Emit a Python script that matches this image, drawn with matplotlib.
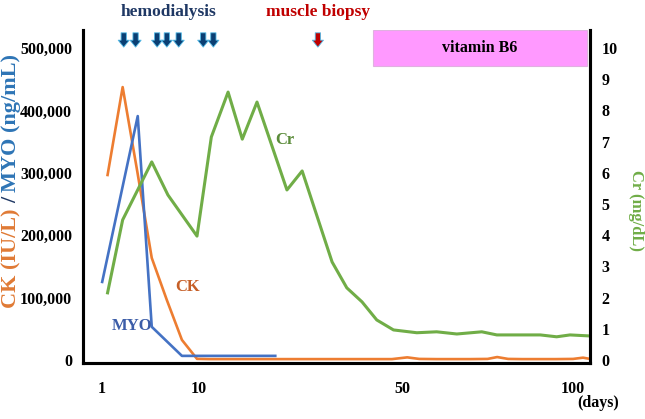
import numpy as np
import matplotlib
matplotlib.use('Agg')
import matplotlib.pyplot as plt
from matplotlib.ticker import FuncFormatter
import matplotlib.transforms as mtransforms

plt.rcParams['font.family'] = ['Liberation Serif', 'DejaVu Serif']
plt.rcParams['font.weight'] = 'bold'

# datos (dias desde el ingreso)
ck_dias = [1.5, 2.9, 4.25, 5.6, 7.0, 8.4, 9.8, 12, 15, 18, 21, 25, 30, 35, 40, 45,
           48, 51.5, 55, 60, 65, 70, 75, 77.8, 81, 85, 90, 95, 100, 102.9, 105]
ck_val = [296500, 437500, 303000, 163500, 96000, 32000, 1600, 1200, 1200, 1200, 1200,
          1200, 1200, 1200, 1200, 1200, 1200, 4000, 1500, 1200, 1200, 1200, 1500,
          4500, 1500, 1200, 1200, 1200, 1500, 3500, 1500]

myo_dias = [1.0, 4.3, 5.6, 8.4, 25.0]
myo_val = [125000, 391000, 53000, 6400, 6400]

cr_dias = [1.5, 2.9, 5.6, 7.1, 9.8, 12.4, 15.7, 18.5, 21.4, 27.3, 30.3, 36.2, 39.1,
           42.1, 45.0, 48.3, 54.3, 60.1, 66.0, 73.3, 77.7, 83.5, 90.4, 95.2, 99.1, 104.4]
cr_val = [2.15, 4.49, 6.35, 5.29, 3.97, 7.15, 8.59, 7.08, 8.27, 5.45, 6.06, 3.14, 2.31,
          1.86, 1.28, 0.96, 0.87, 0.90, 0.83, 0.90, 0.80, 0.80, 0.80, 0.74, 0.80, 0.77]

hd_dias = [3.0, 4.1, 6.1, 7.0, 8.1, 10.8, 12.8]
biopsia_dia = 33.4
vitb6 = (44.3, 104.1)

dias_tick = [1, 10, 50, 100]

# eje x no uniforme (como en el original)
nodos_d = [-5, 1, 10, 50, 100, 120]
nodos_p = [37.3, 102, 199, 402, 573, 641.4]

def fwd(d):
    return np.interp(d, nodos_d, nodos_p)

def inv(p):
    return np.interp(p, nodos_p, nodos_d)

naranja = '#ED7D31'
azul = '#4472C4'
verde = '#70AD47'

fig = plt.figure(figsize=(6.45, 4.19), dpi=100)
ax = fig.add_axes([0.129, 0.134, 0.786, 0.794])
ax.set_xscale('function', functions=(fwd, inv))
ax2 = ax.twinx()

ax.plot(ck_dias, ck_val, color=naranja, lw=1.9, zorder=3)
ax.plot(myo_dias, myo_val, color=azul, lw=1.9, zorder=3)
ax2.plot(cr_dias, cr_val, color=verde, lw=2.2, zorder=2)

ax.set_xlim(-0.76, 105)
ax.set_ylim(-4800, 528800)
ax2.set_ylim(-0.096, 10.576)

ax.set_yticks(range(0, 500001, 100000))
ax.yaxis.set_major_formatter(FuncFormatter(lambda v, p: '{:,.0f}'.format(v)))
ax2.set_yticks(range(0, 11))
ax.set_xticks(dias_tick)
ax.set_xticklabels([str(d) for d in dias_tick])
ax.tick_params(axis='y', length=0, pad=8, labelsize=11.5)
ax.tick_params(axis='x', length=0, pad=13, labelsize=11.5)
ax2.tick_params(axis='y', length=0, pad=8, labelsize=11.5)

for a in (ax, ax2):
    a.spines['top'].set_visible(False)
    for s in ('left', 'right', 'bottom'):
        a.spines[s].set_linewidth(2.2)
        a.spines[s].set_color('black')

# vitamina B6
trans = mtransforms.blended_transform_factory(ax.transData, ax.transAxes)
ax.axvspan(vitb6[0], vitb6[1], ymin=0.892, ymax=1.0, facecolor='#FF99FF',
           edgecolor='#E0B0E0', lw=0.8, zorder=1)
ax.text(inv(np.mean(fwd(np.array(vitb6)))), 0.946,
        'vitamin B6', transform=trans, ha='center', va='center', fontsize=11.5)

# flechas de hemodialisis y biopsia
estilo = 'simple,head_length=0.5,head_width=0.8,tail_width=0.38'
for d in hd_dias:
    ax.annotate('', xy=(d, 0.949), xytext=(d, 0.992), xycoords=trans, textcoords=trans,
                arrowprops=dict(arrowstyle=estilo, fc='#0B3F73', ec='#4FB8E6', lw=0.6,
                                mutation_scale=10, shrinkA=0, shrinkB=0),
                annotation_clip=False)
ax.annotate('', xy=(biopsia_dia, 0.949), xytext=(biopsia_dia, 0.992), xycoords=trans,
            textcoords=trans,
            arrowprops=dict(arrowstyle=estilo, fc='#C00000', ec='#4FB8E6', lw=0.6,
                            mutation_scale=10, shrinkA=0, shrinkB=0),
            annotation_clip=False)

ax.text(inv(np.mean(fwd(np.array([hd_dias[0], hd_dias[-1]])))), 1.055, 'hemodialysis',
        transform=trans, ha='center', va='center', fontsize=12.5, color='#1F3864')
ax.text(biopsia_dia, 1.055, 'muscle biopsy', transform=trans, ha='center', va='center',
        fontsize=12.5, color='#C00000')

# etiquetas de las curvas
ax.text(8.9, 117000, 'CK', color='#C65F27', fontsize=12, ha='center', va='center')
ax.text(3.8, 54000, 'MYO', color='#3C5DA8', fontsize=12, ha='center', va='center')
ax2.text(26.8, 7.05, 'Cr', color='#5B8C3A', fontsize=12, ha='center', va='center')

# titulo del eje izquierdo en tres colores
partes = [('CK (IU/L) ', '#E07A35'), ('/ ', '#1F3864'), ('MYO (ng/mL)', '#2E75B6')]
fig.canvas.draw()
rend = fig.canvas.get_renderer()
textos = []
alto = 0
for s, c in partes:
    t = fig.text(0, 0, s, rotation=90, rotation_mode='anchor', ha='left', va='center',
                 color=c, fontsize=16)
    h = t.get_window_extent(rend).height
    textos.append((t, h))
    alto += h
y0 = (419 - 181) - alto / 2
for t, h in textos:
    t.set_position((11 / 645, y0 / 419))
    y0 += h

fig.text(636 / 645, 1 - 210 / 419, 'Cr (mg/dL)', rotation=270, rotation_mode='anchor',
         ha='center', va='center', color='#70AD47', fontsize=12)
fig.text(0.927, 0.038, '(days)', ha='center', va='center', fontsize=11.5)

fig.savefig('out.png', dpi=100)
